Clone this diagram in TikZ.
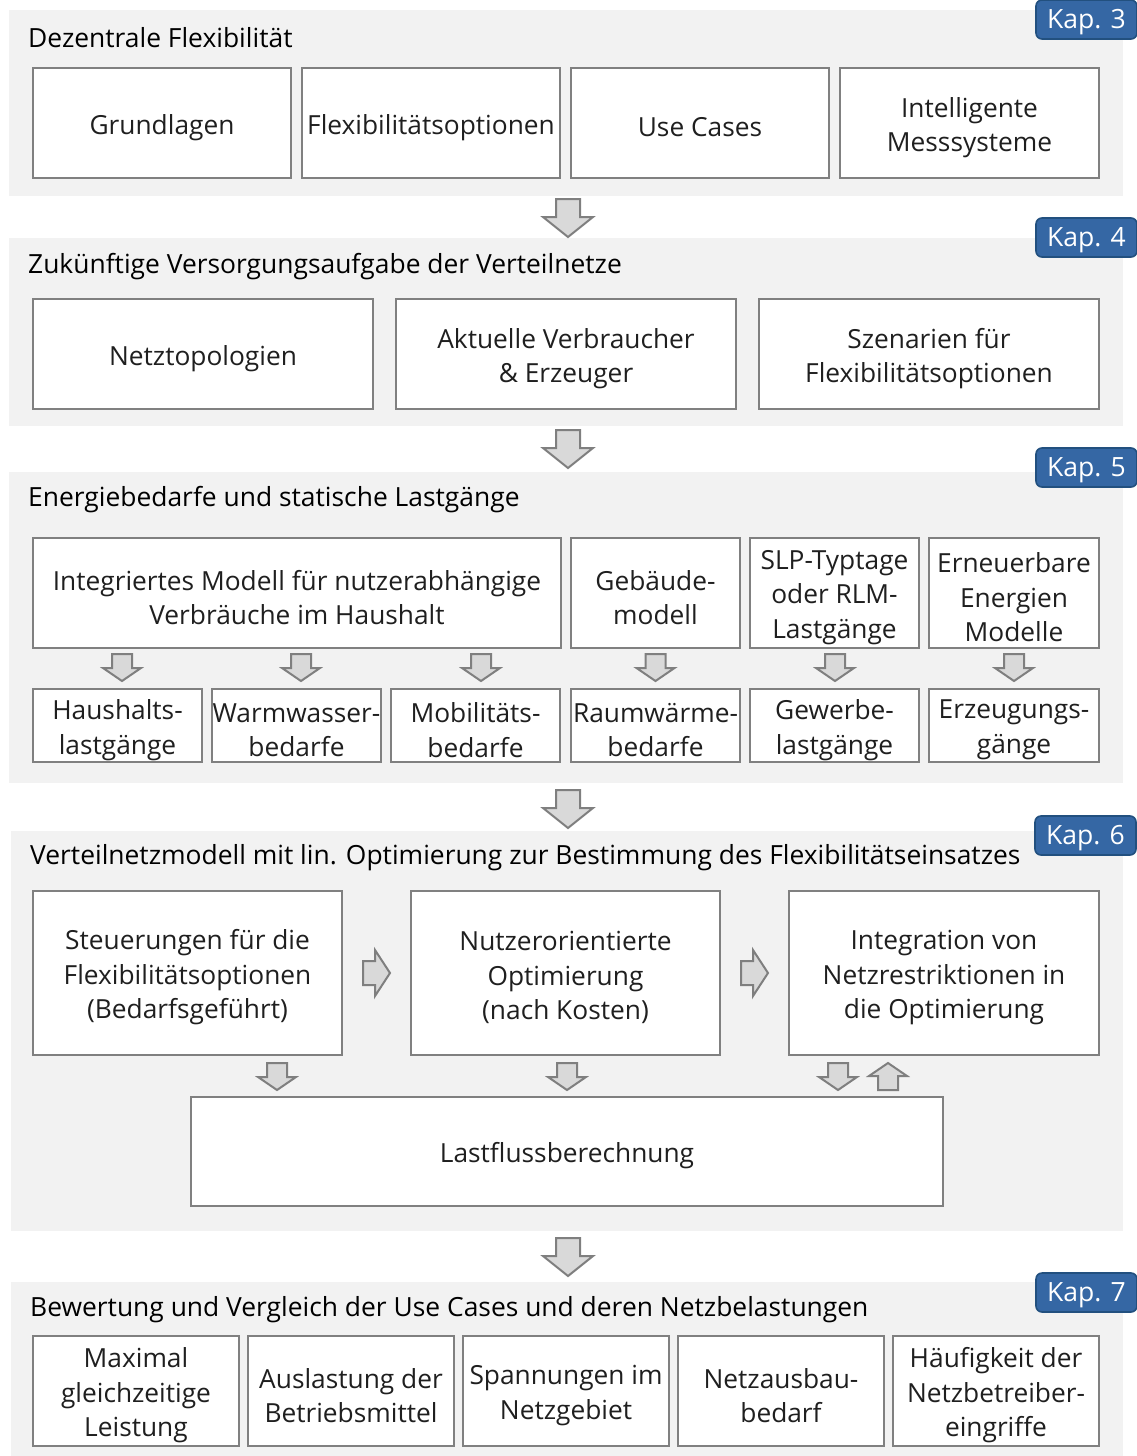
\documentclass[tikz,border=0pt]{standalone}
\usepackage{fontspec}
\setmainfont{Open Sans}

\definecolor{panelbg}{HTML}{F2F2F2}
\definecolor{boxline}{HTML}{808080}
\definecolor{arrowfill}{HTML}{D9D9D9}
\definecolor{arrowline}{HTML}{7F7F7F}
\definecolor{kapfill}{HTML}{3567A4}
\definecolor{kapline}{HTML}{22507F}

\tikzset{
  panel/.style={fill=panelbg, draw=none},
  frame/.style={draw=boxline, line width=2.5pt, fill=white, inner sep=0pt},
  boxtext/.style={inner sep=0pt, align=center,
    font=\fontsize{26.3}{34.5}\selectfont, text=black!88},
  heading/.style={anchor=west, inner sep=0pt, font=\fontsize{26.4}{30}\selectfont},
  kap/.style={fill=kapfill, draw=kapline, line width=1.6pt, rounded corners=6pt,
    minimum width=101pt, minimum height=39pt, inner sep=0pt},
  kaptext/.style={text=white, font=\fontsize{26.5}{30}\selectfont, inner sep=0pt},
  arr/.style={fill=arrowfill, draw=arrowline, line width=2pt, line join=miter},
  bigdown/.pic={\draw[arr] (-12,0)--(12,0)--(12,18)--(25,18)--(0,38)--(-25,18)--(-12,18)--cycle;},
  smalldown/.pic={\draw[arr] (-10,0)--(10,0)--(10,14)--(19,14)--(0,27)--(-19,14)--(-10,14)--cycle;},
  smallup/.pic={\draw[arr] (-10,27)--(10,27)--(10,13)--(19,13)--(0,0)--(-19,13)--(-10,13)--cycle;},
  smallright/.pic={\draw[arr] (0,-12)--(12,-12)--(12,-23)--(27,0)--(12,23)--(12,12)--(0,12)--cycle;},
}

% \mkbox{name}{x1}{y1}{x2}{y2}{text}: framed box between two corners,
% its text set a little below the geometric centre
\newcommand\mkbox[6]{%
  \pgfmathsetmacro\bxcx{(#2+#4)/2}%
  \pgfmathsetmacro\bxcy{(#3+#5)/2}%
  \pgfmathsetmacro\bxw{#4-#2}%
  \pgfmathsetmacro\bxh{#5-#3}%
  \node[frame, minimum width=\bxw pt, minimum height=\bxh pt] (#1) at (\bxcx,\bxcy) {};
  \node[boxtext] (#1t) at ([yshift=-4.5pt]#1.center) {#6};}

% \mkkap{name}{cx}{cy}{text}: chapter badge
\newcommand\mkkap[4]{%
  \node[kap] (#1) at (#2,#3) {};
  \node[kaptext] (#1t) at ([yshift=-3pt]#1.center) {#4};}

\begin{document}
\begin{tikzpicture}[x=1pt,y=-1pt]
\useasboundingbox (0,0) rectangle (1137,1456);

% ---------- panel backgrounds ----------
\fill[panel] (9,10) rectangle (1123,196);
\fill[panel] (9,238) rectangle (1123,426);
\fill[panel] (9,472) rectangle (1123,783);
\fill[panel] (11,831) rectangle (1123,1231);
\fill[panel] (11,1282) rectangle (1123,1456);

% ---------- Kap. 3 ----------
\mkkap{k3}{1086.5}{19.5}{Kap. 3}
\node[heading] (t3) at (28,38) {Dezentrale Flexibilität};
\mkbox{b31}{33}{68}{291}{178}{Grundlagen}
\mkbox{b32}{302}{68}{560}{178}{Flexibilitätsoptionen}
\mkbox{b33}{571}{68}{829}{178}{Use Cases}
\mkbox{b34}{840}{68}{1099}{178}{Intelligente\\Messsysteme}

\pic at (568,199) {bigdown};

% ---------- Kap. 4 ----------
\mkkap{k4}{1086.5}{237.5}{Kap. 4}
\node[heading] (t4) at (28,267) {Zukünftige Versorgungsaufgabe der Verteilnetze};
\mkbox{b41}{33}{299}{373}{409}{Netztopologien}
\mkbox{b42}{396}{299}{736}{409}{Aktuelle Verbraucher\\\& Erzeuger}
\mkbox{b43}{759}{299}{1099}{409}{Szenarien für\\Flexibilitätsoptionen}

\pic at (568,430) {bigdown};

% ---------- Kap. 5 ----------
\mkkap{k5}{1086.5}{467.5}{Kap. 5}
\node[heading] (t5) at (28,500) {Energiebedarfe und statische Lastgänge};
\mkbox{b51}{33}{538}{561}{648}{Integriertes Modell für nutzerabhängige\\Verbräuche im Haushalt}
\mkbox{b52}{571}{538}{740}{648}{Gebäude-\\modell}
\mkbox{b53}{750}{538}{919}{648}{SLP-Typtage\\oder RLM-\\Lastgänge}
\mkbox{b54}{929}{538}{1099}{648}{Erneuerbare\\Energien\\Modelle}

\pic at (122,654) {smalldown};
\pic at (301,654) {smalldown};
\pic at (481,654) {smalldown};
\pic at (655.5,654) {smalldown};
\pic at (835,654) {smalldown};
\pic at (1014,654) {smalldown};

\mkbox{c1}{33}{689}{202}{762}{Haushalts-\\lastgänge}
\mkbox{c2}{212}{689}{381}{762}{Warmwasser-\\bedarfe}
\mkbox{c3}{391}{689}{560}{762}{Mobilitäts-\\bedarfe}
\mkbox{c4}{571}{689}{740}{762}{Raumwärme-\\bedarfe}
\mkbox{c5}{750}{689}{919}{762}{Gewerbe-\\lastgänge}
\mkbox{c6}{929}{689}{1099}{762}{Erzeugungs-\\gänge}

\pic at (568,790) {bigdown};

% ---------- Kap. 6 ----------
\mkkap{k6}{1085.5}{835.5}{Kap. 6}
\node[heading] (t6) at (30,858) {Verteilnetzmodell mit lin. Optimierung zur Bestimmung des Flexibilitätseinsatzes};
\mkbox{b61}{33}{891}{342}{1055}{Steuerungen für die\\Flexibilitätsoptionen\\(Bedarfsgeführt)}
\mkbox{b62}{411}{891}{720}{1055}{Nutzerorientierte\\Optimierung\\(nach Kosten)}
\mkbox{b63}{789}{891}{1099}{1055}{Integration von\\Netzrestriktionen in\\die Optimierung}
\mkbox{b64}{191}{1097}{943}{1206}{Lastflussberechnung}

\pic at (363,973) {smallright};
\pic at (741,973) {smallright};
\pic at (277,1063) {smalldown};
\pic at (567,1063) {smalldown};
\pic at (838,1063) {smalldown};
\pic at (888,1063) {smallup};

\pic at (568,1238) {bigdown};

% ---------- Kap. 7 ----------
\mkkap{k7}{1086.5}{1292.5}{Kap. 7}
\node[heading] (t7) at (30,1310) {Bewertung und Vergleich der Use Cases und deren Netzbelastungen};
\mkbox{b71}{33}{1336}{239}{1446}{Maximal\\gleichzeitige\\Leistung}
\mkbox{b72}{248}{1336}{454}{1446}{Auslastung der\\Betriebsmittel}
\mkbox{b73}{463}{1336}{669}{1446}{Spannungen im\\Netzgebiet}
\mkbox{b74}{678}{1336}{884}{1446}{Netzausbau-\\bedarf}
\mkbox{b75}{893}{1336}{1099}{1446}{Häufigkeit der\\Netzbetreiber-\\eingriffe}
\end{tikzpicture}
\end{document}
